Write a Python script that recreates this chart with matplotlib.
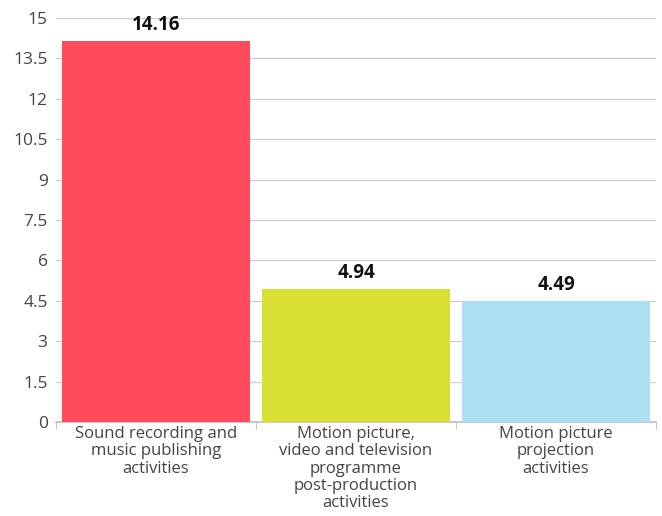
import matplotlib
matplotlib.use("Agg")
import matplotlib.pyplot as plt
import numpy as np

categories = ["Sound recording and\nmusic publishing\nactivities",
              "Motion picture,\nvideo and television\nprogramme\npost-production\nactivities",
              "Motion picture\nprojection\nactivities"]
values = [14.16, 4.94, 4.49]
labels = ["14.16", "4.94", "4.49"]
colors = ["#FF4B5C", "#D9E033", "#ABE1F3"]
yticks = [0, 1.5, 3, 4.5, 6, 7.5, 9, 10.5, 12, 13.5, 15]
ytick_labels = ["0", "1.5", "3", "4.5", "6", "7.5", "9", "10.5", "12", "13.5", "15"]

plt.rcParams['font.family'] = ['Open Sans', 'DejaVu Sans']
fig = plt.figure(figsize=(6.62, 5.16), dpi=100)
ax = fig.add_axes([56/662, (516-422)/516, 600/662, (422-18)/516])

x = np.arange(len(values))
ax.bar(x, values, width=0.94, color=colors, zorder=3)
for xi, v, l in zip(x, values, labels):
    ax.text(xi, v + 0.22, l, ha='center', va='bottom', fontsize=13.5, fontweight='bold', color='#111111', zorder=4)

ax.set_xlim(-0.5, 2.5)
ax.set_ylim(0, 15)
ax.set_yticks(yticks)
ax.set_yticklabels(ytick_labels, fontsize=12.5, color='#444444')
ax.yaxis.grid(True, color='#CCCCCC', linewidth=0.9, zorder=0)
ax.set_xticks(x)
ax.set_xticklabels(categories, fontsize=12, color='#444444', linespacing=1.1)
ax.tick_params(axis='x', length=0, pad=3)
ax.tick_params(axis='y', length=0, pad=6)
# category separators
ax.set_xticks([-0.5, 0.5, 1.5, 2.5], minor=True)
ax.tick_params(axis='x', which='minor', length=5, color='#BBBBBB')
for s in ['top', 'right', 'left']:
    ax.spines[s].set_visible(False)
ax.spines['bottom'].set_color('#BBBBBB')
ax.spines['bottom'].set_linewidth(1.2)

fig.savefig("out.png", dpi=100)
